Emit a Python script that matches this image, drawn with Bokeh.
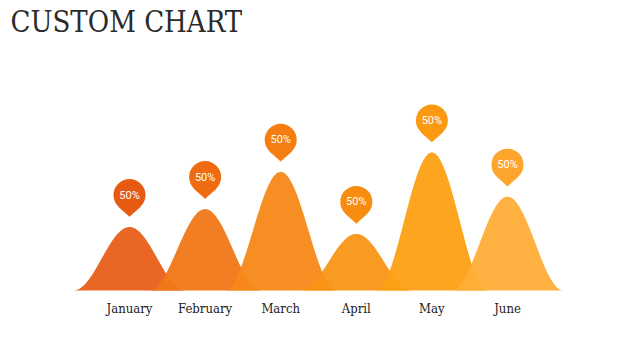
import numpy as np
from bokeh.plotting import figure
from bokeh.models import Range1d, Label
from bokeh.core.properties import value
from bokeh.embed import file_html
from bokeh.resources import INLINE

# ---- data ----
months = ["January", "February", "March", "April", "May", "June"]
values = [46, 59, 86, 41, 100, 68]
pin_labels = ["50%", "50%", "50%", "50%", "50%", "50%"]
area_colors = ["#E85E19", "#F07717", "#F68818", "#F99516", "#FDA015", "#FFAE38"]
pin_colors = ["#E65A12", "#EE6C0F", "#F47E12", "#F78C10", "#FB9A10", "#FDA52C"]

W, H = 624, 344
XS = 75.6          # px between months
YS = 1.38          # px per unit
X0 = 129           # px of first month
Y0 = 290           # px (from top) of baseline

p = figure(width=W, height=H, output_backend="svg", toolbar_location=None,
           min_border=0, x_range=Range1d(-X0 / XS, (W - X0) / XS),
           y_range=Range1d(-(H - Y0) / YS, Y0 / YS))
p.axis.visible = False
p.grid.visible = False
p.outline_line_color = None
p.background_fill_color = "white"
p.border_fill_color = "white"

half_w = 56 / XS
for i, (h, c) in enumerate(zip(values, area_colors)):
    dx = np.linspace(-half_w, half_w, 121)
    yy = h * (0.5 + 0.5 * np.cos(np.pi * dx / half_w))
    p.varea(x=i + dx, y1=np.zeros_like(dx), y2=yy, fill_color=c, fill_alpha=0.95)

# pins
r = 16.0
d = 21.5
cosT = r / d
sinT = np.sqrt(1 - cosT ** 2)
cx = list(range(len(values)))
cy = [h + 32 / YS for h in values]
tri_xs, tri_ys = [], []
for x, y in zip(cx, cy):
    tri_xs.append([x - r * sinT / XS, x + r * sinT / XS, x])
    tri_ys.append([y - r * cosT / YS, y - r * cosT / YS, y - d / YS])
p.patches(xs=tri_xs, ys=tri_ys, fill_color=pin_colors, line_color=pin_colors, line_width=0.5)
p.circle(x=cx, y=cy, radius=r, radius_units="screen", fill_color=pin_colors, line_color=None)
p.text(x=cx, y=cy, text=pin_labels, text_color="white", text_font=value("Roboto"),
       text_font_size="11px", text_align="center", text_baseline="middle")

# month labels
p.text(x=cx, y=[-18 / YS] * len(months), text=months, text_color="#222222",
       text_font=value("DejaVu Serif Condensed"), text_font_size="13px",
       text_align="center", text_baseline="alphabetic")

title = Label(x=10, y=H - 21, x_units="screen", y_units="screen", text="CUSTOM CHART",
              text_font="DejaVu Serif Condensed", text_font_size="29px", text_color="#2b2b2b",
              text_baseline="alphabetic")
p.add_layout(title)

open("out.html", "w").write(file_html(p, INLINE))
